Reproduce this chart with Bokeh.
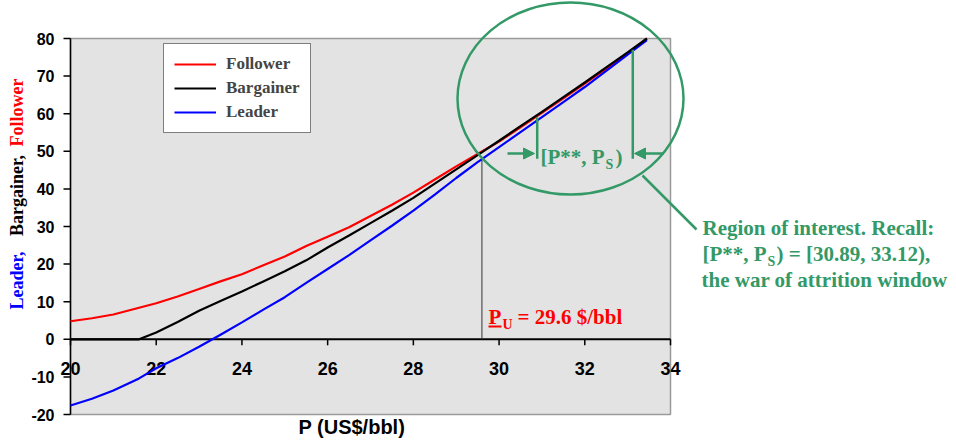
import numpy as np
from bokeh.plotting import figure
from bokeh.models import Range1d, Legend, LegendItem, Label, Arrow, NormalHead
from bokeh.embed import file_html
from bokeh.resources import INLINE
from bokeh.core.properties import value

# ---------------- data ----------------
P = [20.0, 20.5, 21.0, 21.6, 22.0, 22.5, 23.0, 23.5, 24.0, 24.5, 25.0, 25.5, 26.0, 26.5,
     27.0, 27.5, 28.0, 28.5, 29.0, 29.5, 30.0, 30.5, 31.0, 31.5, 32.0, 32.5, 33.0, 33.45]
FOLLOWER = [4.8, 5.6, 6.6, 8.4, 9.6, 11.4, 13.4, 15.4, 17.3, 19.7, 22.0, 24.8, 27.3, 29.8,
            32.8, 35.8, 39.0, 42.5, 46.0, 49.3, 52.6, 56.4, 60.2, 64.1, 68.0, 72.0, 76.0, 80.0]
BARGAINER = [0.0, 0.0, 0.0, 0.0, 1.8, 4.6, 7.6, 10.2, 12.7, 15.4, 18.1, 21.0, 24.4, 27.6,
             30.9, 34.2, 37.6, 41.4, 45.2, 49.0, 52.8, 56.7, 60.5, 64.4, 68.3, 72.3, 76.3, 80.0]
LEADER = [-17.6, -15.8, -13.6, -10.4, -7.7, -5.0, -2.0, 1.2, 4.5, 7.9, 11.2, 15.0, 18.7, 22.4,
          26.3, 30.2, 34.2, 38.5, 42.9, 47.1, 51.1, 55.1, 59.1, 63.1, 67.1, 71.4, 75.7, 79.6]

X_TICKS = [20, 22, 24, 26, 28, 30, 32, 34]
Y_TICKS = [-20, -10, 0, 10, 20, 30, 40, 50, 60, 70, 80]
X_TICK_LABELS = [str(t) for t in X_TICKS]
Y_TICK_LABELS = [str(t) for t in Y_TICKS]

P_U = 29.6          # $/bbl
P_STAR = 30.89      # P**
P_S = 33.12         # P_S
Y_WINDOW_BASE = 48.0
Y_PSTAR_TOP = 59.0
Y_PS_TOP = 77.0
Y_PU_TOP = 48.0

GREEN = "#339966"
RED = "#ff0000"
BLUE = "#0000ff"
SERIF = "Liberation Serif"
SANS = "Liberation Sans"

# ---------------- canvas geometry ----------------
W, H = 950, 440
PX_PER_X = 600 / 14.0     # 20..34 over 600 px
PX_PER_Y = 3.76           # -20..80 over 376 px


def X(px):
    return X_TICKS[0] + (px - 70) / PX_PER_X


def Y(py):
    return Y_TICKS[-1] - (py - 38) / PX_PER_Y


p = figure(width=W, height=H, x_range=Range1d(X(0), X(W)), y_range=Range1d(Y(H), Y(0)),
           output_backend="svg", toolbar_location=None, title=None,
           x_axis_type=None, y_axis_type=None, min_border=0)
p.background_fill_color = "white"
p.border_fill_color = "white"
p.outline_line_color = None
p.grid.visible = False

# plot area
p.quad(left=[X_TICKS[0]], right=[X_TICKS[-1]], bottom=[Y_TICKS[0]], top=[Y_TICKS[-1]],
       fill_color="#e3e3e3", line_color="#9a9a9a", line_width=1.5)

# y axis
ny = len(Y_TICKS)
p.segment(x0=[X_TICKS[0]], y0=[Y_TICKS[0]], x1=[X_TICKS[0]], y1=[Y_TICKS[-1]],
          line_color="black", line_width=1.5)
p.segment(x0=[X_TICKS[0]] * ny, y0=Y_TICKS, x1=[X_TICKS[0] - 7 / PX_PER_X] * ny, y1=Y_TICKS,
          line_color="black", line_width=1.5)
p.text(x=[X_TICKS[0]] * ny, y=Y_TICKS, text=Y_TICK_LABELS, x_offset=-16,
       text_align="right", text_baseline="middle", text_font=value(SANS),
       text_font_style="bold", text_font_size="16px", text_color="black")

# x axis drawn at y = 0
nx = len(X_TICKS)
p.segment(x0=[X_TICKS[0]], y0=[0], x1=[X_TICKS[-1]], y1=[0], line_color="black", line_width=2)
p.segment(x0=X_TICKS, y0=[0] * nx, x1=X_TICKS, y1=[-6 / PX_PER_Y] * nx,
          line_color="black", line_width=1.5)
p.text(x=X_TICKS, y=[0] * nx, text=X_TICK_LABELS, y_offset=29,
       text_align="center", text_baseline="middle", text_font=value(SANS),
       text_font_style="bold", text_font_size="18px", text_color="black")

# P_U vertical line
p.segment(x0=[P_U], y0=[0], x1=[P_U], y1=[Y_PU_TOP], line_color="#333333", line_width=1)

# series
r_f = p.line(P, FOLLOWER, line_color=RED, line_width=2.2)
r_l = p.line(P, LEADER, line_color=BLUE, line_width=2.2)
r_b = p.line(P, BARGAINER, line_color="black", line_width=2.2)

legend = Legend(items=[LegendItem(label="Follower", renderers=[r_f]),
                       LegendItem(label="Bargainer", renderers=[r_b]),
                       LegendItem(label="Leader", renderers=[r_l])],
                location=(163, H - 45 - 88), padding=10, spacing=4, margin=0,
                label_height=20, glyph_height=20, glyph_width=42, label_standoff=10,
                label_text_font=SERIF, label_text_font_style="bold", label_text_font_size="17px",
                background_fill_color="white", background_fill_alpha=1.0,
                border_line_color="black", border_line_width=1.5)
p.add_layout(legend)

# green window markers
p.segment(x0=[P_STAR, P_S], y0=[Y_WINDOW_BASE, Y_WINDOW_BASE], x1=[P_STAR, P_S],
          y1=[Y_PSTAR_TOP, Y_PS_TOP], line_color=GREEN, line_width=2.5)
for xs, xe in [(507, 534), (663, 634)]:
    p.add_layout(Arrow(end=NormalHead(size=11, fill_color=GREEN, line_color=GREEN),
                       x_start=X(xs), y_start=Y(153), x_end=X(xe), y_end=Y(153),
                       line_color=GREEN, line_width=2.5))

# ellipse + connector
p.ellipse(x=[X(570)], y=[Y(98)], width=[226], height=[192], width_units="screen",
          height_units="screen", fill_color=None, line_color=GREEN, line_width=2.5)
p.segment(x0=[X(642)], y0=[Y(175)], x1=[X(696)], y1=[Y(229)], line_color=GREEN, line_width=2.5)


def lab(txt, px, py, size, color, font=SERIF, style="bold", angle=0,
        baseline="alphabetic", align="left"):
    if baseline == "alphabetic":
        py = py - 0.25 * size
    p.add_layout(Label(x=X(px), y=Y(py), text=txt, text_font=font, text_font_style=style,
                       text_font_size=f"{size}px", text_color=color, angle=angle,
                       angle_units="deg", text_align=align, text_baseline=baseline))


# window label inside ellipse
lab("[P**, P", 540, 162, 21, GREEN)
lab("S", 605, 167, 14, GREEN)
lab(")", 615, 162, 21, GREEN)

# P_U label
lab("P", 488, 322, 21, RED)
p.segment(x0=[X(488)], y0=[Y(326)], x1=[X(501)], y1=[Y(326)], line_color=RED, line_width=2)
lab("U", 502, 327, 14, RED)
lab("= 29.6 $/bbl", 517, 322, 21, RED)

# right-hand note
lab("Region of interest. Recall:", 702, 233, 21, GREEN)
lab("[P**, P", 702, 259, 21, GREEN)
lab("S", 767, 264, 14, GREEN)
lab(") = [30.89, 33.12),", 776, 259, 21, GREEN)
lab("the war of attrition window", 701, 285, 21, GREEN)

# y axis title (multi-colour, rotated), centred on each word
lab("Leader,", 16, 280, 18, BLUE, angle=90, baseline="middle", align="center")
lab("Bargainer,", 16, 195, 18, "black", angle=90, baseline="middle", align="center")
lab("Follower", 16, 112, 18, RED, angle=90, baseline="middle", align="center")

# x axis title
lab("P (US$/bbl)", 298, 431, 20, "black", font=SANS, style="bold")

open("out.html", "w").write(file_html(p, INLINE))
